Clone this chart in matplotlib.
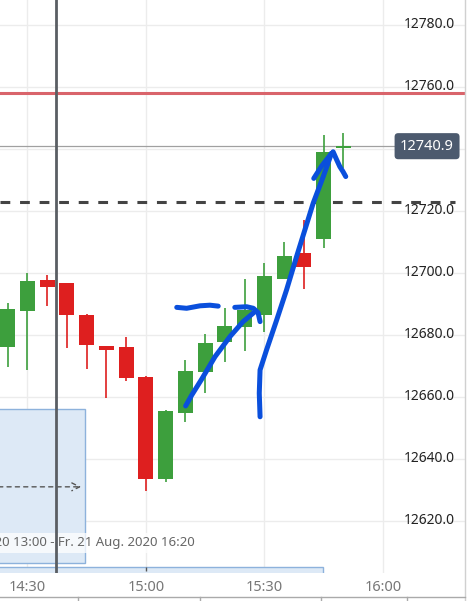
#!/usr/bin/env python3
import matplotlib
matplotlib.use("Agg")
import matplotlib.pyplot as plt
from matplotlib.lines import Line2D
from matplotlib.patches import Rectangle
from matplotlib.transforms import blended_transform_factory

# --- Configuration ---
OUTPUT_IMAGE_FILE = "out.png"
FIG_W, FIG_H = 468, 601  # pixels

# --- Candle data (5 min bars, time in minutes since midnight) ---
times = [865, 870, 875, 880, 885, 890, 895, 900, 905, 910, 915, 920, 925, 930, 935, 940, 945, 950]
opens = [12676.2, 12687.8, 12697.7, 12696.8, 12686.5, 12676.4, 12676.1, 12666.5, 12633.6,
         12654.9, 12668.2, 12677.8, 12682.7, 12686.3, 12698.2, 12706.4, 12710.9, 12740.2]
highs = [12690.4, 12699.9, 12699.4, 12696.9, 12686.8, 12676.5, 12679.3, 12666.6, 12655.7,
         12671.9, 12680.3, 12688.7, 12698.1, 12703.1, 12709.9, 12717.1, 12744.5, 12745.1]
lows = [12669.8, 12668.7, 12689.5, 12675.9, 12668.9, 12659.6, 12665.3, 12629.5, 12632.7,
        12651.8, 12661.4, 12671.4, 12674.9, 12681.1, 12698.2, 12694.7, 12708.0, 12734.0]
closes = [12688.4, 12697.4, 12695.4, 12686.5, 12676.9, 12675.3, 12666.2, 12633.6, 12655.5,
          12668.4, 12677.4, 12682.9, 12688.1, 12699.0, 12705.5, 12702.0, 12739.1, 12740.9]

# --- Axis ticks ---
price_ticks = [12620, 12640, 12660, 12680, 12700, 12720, 12740, 12760, 12780]
time_ticks = [870, 900, 930, 960]
time_labels = ["14:30", "15:00", "15:30", "16:00"]

# --- Horizontal levels ---
last_price = 12740.9
red_level = 12758.1
dashed_level = 12722.9
marker_time = 877.2

# --- Date range box ---
range_end_time = 884.6
range_top = 12656.1
range_bottom = 12606.5
range_arrow_price = 12631.0
range_text = "Do. 20 Aug. 2020 13:00 - Fr. 21 Aug. 2020 16:20"
range_text_time = 912.3
range_text_price = 12612.9
bottom_band_end = 944.8

# --- Hand-drawn blue strokes (time, price) ---
stroke_dash_t = [907.8, 910.3, 913.7, 916.2, 918.3]
stroke_dash_p = [12688.9, 12688.6, 12689.4, 12689.6, 12689.3]
stroke_hook_t = [922.5, 925.5, 927.2, 928.4, 928.9]
stroke_hook_p = [12688.9, 12689.1, 12688.6, 12687.2, 12684.3]
stroke_curve_t = [910.05, 911.6, 914.1, 917.5, 921.3, 924.6, 927.6]
stroke_curve_p = [12657.1, 12660.6, 12665.7, 12673.0, 12679.5, 12684.3, 12687.5]
stroke_long_t = [928.9, 928.7, 928.9, 930.55, 933.1, 935.6, 938.15, 942.35, 944.9, 947.0]
stroke_long_p = [12653.6, 12661.2, 12668.7, 12675.2, 12684.8, 12694.5, 12705.3, 12722.5, 12731.1, 12738.6]
stroke_head_l_t = [942.5, 944.5, 947.0]
stroke_head_l_p = [12730.5, 12734.5, 12738.6]
stroke_head_r_t = [947.4, 948.3, 949.1, 949.9, 950.6]
stroke_head_r_p = [12739.1, 12736.5, 12734.3, 12732.7, 12731.1]

GREEN = "#3d9f3d"
RED = "#de1f1f"
BLUE_PEN = "#0a4fdc"
GRID = "#ececec"

plt.rcParams["font.family"] = ["Noto Sans", "DejaVu Sans"]


def draw_candles(ax):
    body_w = 3.8
    for t, o, h, l, c in zip(times, opens, highs, lows, closes):
        col = GREEN if c >= o else RED
        ax.vlines(t, l, h, color=col, linewidth=1.2, zorder=3)
        bottom = min(o, c)
        height = max(abs(c - o), 0.9)
        ax.add_patch(Rectangle((t - body_w / 2, bottom), body_w, height,
                               facecolor=col, edgecolor="none", zorder=4))


def main():
    fig = plt.figure(figsize=(FIG_W / 100, FIG_H / 100), dpi=100)
    ax = fig.add_axes([0, 28 / FIG_H, 465 / FIG_W, 1 - 28 / FIG_H])
    ax.set_xlim(863.04, 980.8)
    ax.set_ylim(12603.2, 12788.06)
    for s in ax.spines.values():
        s.set_visible(False)

    # grid
    ax.set_yticks(price_ticks)
    ax.set_yticklabels([])
    ax.set_xticks(time_ticks)
    ax.set_xticklabels(time_labels, color="#777777", fontsize=10.5)
    ax.tick_params(axis="both", length=0)
    ax.tick_params(axis="x", pad=5)
    ax.grid(True, color=GRID, linewidth=1.0, zorder=0)
    ax.set_axisbelow(True)

    # price labels inside the plot (the one under the last price tag is hidden)
    ytrans = blended_transform_factory(ax.transAxes, ax.transData)
    for p in price_ticks:
        if abs(p - last_price) < 5:
            continue
        ax.text(455 / 465, p, f"{p:.1f}", transform=ytrans,
                ha="right", va="center", fontsize=10, color="#222222", zorder=6)

    # date range box and arrow
    bt = blended_transform_factory(ax.transData, ax.transAxes)
    ax.add_patch(Rectangle((860, range_bottom), range_end_time - 860, range_top - range_bottom,
                           facecolor="#dde9f6", edgecolor="#8db2dc", linewidth=1.0, zorder=1))
    ax.add_patch(Rectangle((860, -0.01), bottom_band_end - 860, 0.021,
                           facecolor="#dde9f6", edgecolor="#8db2dc", linewidth=1.0,
                           transform=bt, zorder=1, clip_on=True))
    ax.vlines(900, 0.003, 0.01, transform=bt, color="#555555", linewidth=1.0, zorder=2)
    ax.annotate("", xy=(range_end_time - 0.3, range_arrow_price), xytext=(862, range_arrow_price),
                arrowprops=dict(arrowstyle="->", color="#555555", linestyle=(0, (3, 3)),
                                linewidth=1.0, mutation_scale=14), zorder=2)
    ax.text(range_text_time, range_text_price, range_text, ha="right", va="center",
            fontsize=9.5, color="#666666", clip_on=True, zorder=2,
            bbox=dict(boxstyle="square,pad=0.25", facecolor="white", edgecolor="none", alpha=0.75))

    # level lines
    ax.axhline(red_level, color="#d9646b", linewidth=2.2, zorder=2)
    ax.axhline(dashed_level, xmax=455 / 465, color="#444444", linewidth=2.2,
               linestyle=(0, (3.2, 3.2)), zorder=2)
    ax.axhline(last_price, xmax=396 / 465, color="#a0a0a0", linewidth=0.9, zorder=2)
    ax.axvline(marker_time, color="#5a5e63", linewidth=2.0, zorder=5)

    draw_candles(ax)

    # last price tag
    ax.text(454 / 465, last_price, f"{last_price:.1f}", transform=ytrans,
            ha="right", va="center", fontsize=10.5, color="white", zorder=7,
            bbox=dict(boxstyle="round,pad=0.38,rounding_size=0.25", facecolor="#4c5a6e", edgecolor="none"))

    # hand-drawn annotations
    pen = dict(color=BLUE_PEN, linewidth=3.6, solid_capstyle="round", solid_joinstyle="round", zorder=8)
    for st, sp in [(stroke_dash_t, stroke_dash_p), (stroke_hook_t, stroke_hook_p),
                   (stroke_curve_t, stroke_curve_p), (stroke_long_t, stroke_long_p),
                   (stroke_head_l_t, stroke_head_l_p), (stroke_head_r_t, stroke_head_r_p)]:
        ax.plot(st, sp, **pen)

    # frame bits around the chart
    def fx(px):
        return px / FIG_W

    def fy(py):
        return 1 - py / FIG_H

    fig.add_artist(Line2D([fx(465), fx(465)], [0, 1], color="#d0d0d0", linewidth=1.0))
    fig.add_artist(Line2D([0, fx(465)], [fy(597), fy(597)], color="#aaaaaa", linewidth=1.0))
    for sx in [78, 200, 321, 407]:
        fig.add_artist(Line2D([fx(sx), fx(sx)], [0, fy(597)], color="#aaaaaa", linewidth=1.0))

    fig.savefig(OUTPUT_IMAGE_FILE, dpi=100)


if __name__ == "__main__":
    main()
